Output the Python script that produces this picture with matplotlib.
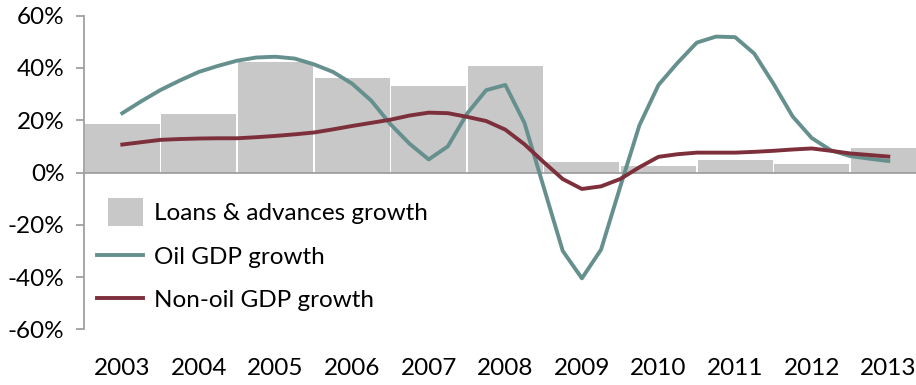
import numpy as np
import matplotlib
matplotlib.use("Agg")
import matplotlib.pyplot as plt
from matplotlib.patches import Rectangle
from matplotlib.legend_handler import HandlerPatch
from matplotlib.ticker import FuncFormatter

plt.rcParams['font.family'] = ['Lato', 'DejaVu Sans']

years = ['2003', '2004', '2005', '2006', '2007', '2008',
         '2009', '2010', '2011', '2012', '2013']

# annual loans & advances growth (%)
loans_growth = [18.5, 22.2, 42.3, 36.1, 33.0, 40.6, 4.1, 2.5, 4.8, 3.3, 9.3]

# quarterly GDP growth (%), 2003 through 2013
oil_gdp = [22.7, 27.3, 31.6, 35.2, 38.5, 40.8, 42.8, 44.0,
           44.3, 43.6, 41.4, 38.5, 34.0, 27.5, 18.5, 11.0,
           5.0, 10.0, 22.5, 31.5, 33.5, 19.0, -5.5, -30.0,
           -40.5, -29.5, -5.5, 18.0, 33.5, 42.0, 49.7, 52.0,
           51.8, 45.5, 34.0, 21.5, 13.2, 8.5, 6.3, 5.3, 4.4]
non_oil_gdp = [10.7, 11.6, 12.5, 12.8, 13.0, 13.1, 13.1, 13.5,
               14.0, 14.6, 15.3, 16.5, 17.8, 19.0, 20.2, 21.8,
               22.9, 22.7, 21.3, 19.7, 16.4, 10.8, 4.0, -2.5,
               -6.3, -5.3, -2.5, 2.0, 6.0, 7.0, 7.6, 7.6,
               7.6, 7.9, 8.3, 8.8, 9.2, 8.3, 7.3, 6.7, 6.1]

W, H = 916, 385
FS = 17.5


def small_box(legend, orig_handle, xdescent, ydescent, width, height, fontsize):
    # narrower, taller swatch pushed to the right of the handle area
    w = width * 0.76
    return Rectangle((width - w - xdescent, -ydescent - height * 0.3), w, height * 1.6)


fig = plt.figure(figsize=(W / 100, H / 100), dpi=100)
ax = fig.add_axes([84 / W, 1 - 329.3 / H, 1 - 84 / W, (329.3 - 15.7) / H])

x = np.arange(len(years))
bars = ax.bar(x, loans_growth, width=0.98, color='#c8c8c8', zorder=1,
              label='Loans & advances growth')

xq = np.arange(len(oil_gdp)) / 4.0
l1, = ax.plot(xq, oil_gdp, color='#66908d', lw=2.8, zorder=3, label='Oil GDP growth',
              solid_joinstyle='round')
l2, = ax.plot(xq, non_oil_gdp, color='#7d303b', lw=2.8, zorder=4, label='Non-oil GDP growth',
              solid_joinstyle='round')

ax.axhline(0, color='#a0a0a0', lw=1.3, zorder=2)

ax.set_ylim(-60, 60)
ax.set_yticks(np.arange(-60, 61, 20))
ax.yaxis.set_major_formatter(FuncFormatter(lambda v, p: f'{v:.0f}%'))
ax.set_xlim(-0.5, -0.5 + (W - 84) / 76.6)
ax.set_xticks(x)
ax.set_xticklabels(years)

for s in ['top', 'right', 'bottom']:
    ax.spines[s].set_visible(False)
ax.spines['left'].set_color('#a0a0a0')
ax.spines['left'].set_linewidth(1.3)
ax.tick_params(axis='y', length=6, width=1.3, color='#a0a0a0', labelsize=FS, pad=8)
ax.tick_params(axis='x', length=0, labelsize=FS, pad=21)

fig.legend([bars[0], l1, l2], [bars.get_label(), l1.get_label(), l2.get_label()],
           loc='upper left', bbox_to_anchor=(97 / W, 1 - 203 / H), frameon=False,
           fontsize=FS, handlelength=1.9, handleheight=0.75, labelspacing=0.9,
           handletextpad=0.45, borderaxespad=0, borderpad=0,
           handler_map={Rectangle: HandlerPatch(patch_func=small_box)})

fig.savefig('out.png', dpi=100)
